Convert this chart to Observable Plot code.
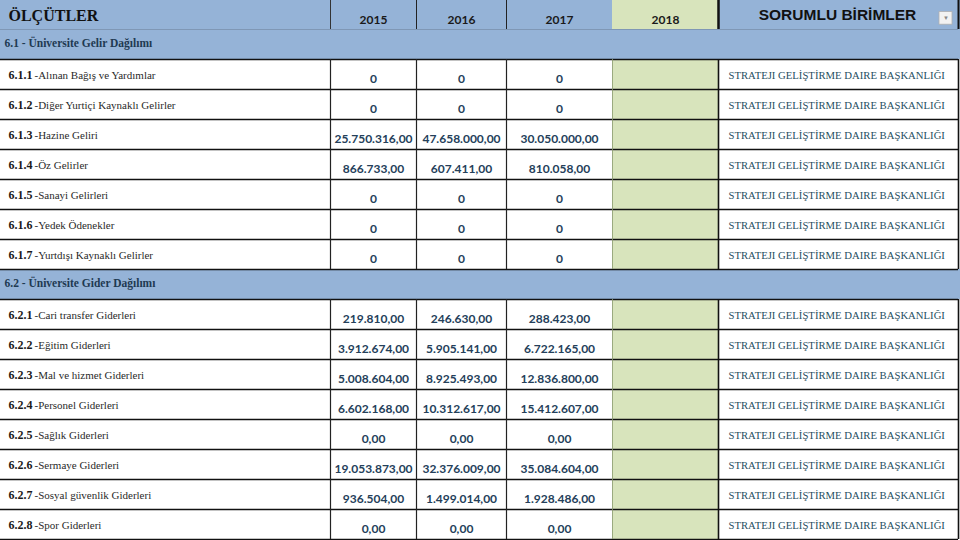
<!DOCTYPE html>
<html>
<head>
<meta charset="utf-8">
<script src="https://cdn.jsdelivr.net/npm/d3@7"></script>
<script src="https://cdn.jsdelivr.net/npm/@observablehq/plot@0.6"></script>
<style>
  html, body { margin: 0; padding: 0; background: #ffffff; }
  #chart svg { display: block; }
</style>
</head>
<body>
<div id="chart"></div>
<script>
// ---------- DATA ----------
const headerLabel = "ÖLÇÜTLER";
const unitHeader = "SORUMLU BİRİMLER";
const years = ["2015", "2016", "2017", "2018"];
const sectionTitles = ["6.1 - Üniversite Gelir Dağılımı", "6.2 - Üniversite Gider Dağılımı"];

const gelirCodes = ["6.1.1", "6.1.2", "6.1.3", "6.1.4", "6.1.5", "6.1.6", "6.1.7"];
const gelirNames = ["Alınan Bağış ve Yardımlar", "Diğer Yurtiçi Kaynaklı Gelirler", "Hazine Geliri",
  "Öz Gelirler", "Sanayi Gelirleri", "Yedek Ödenekler", "Yurtdışı Kaynaklı Gelirler"];
const gelir2015 = [0, 0, 25750316, 866733, 0, 0, 0];
const gelir2016 = [0, 0, 47658000, 607411, 0, 0, 0];
const gelir2017 = [0, 0, 30050000, 810058, 0, 0, 0];

const giderCodes = ["6.2.1", "6.2.2", "6.2.3", "6.2.4", "6.2.5", "6.2.6", "6.2.7", "6.2.8"];
const giderNames = ["Cari transfer Giderleri", "Eğitim Giderleri", "Mal ve hizmet Giderleri",
  "Personel Giderleri", "Sağlık Giderleri", "Sermaye Giderleri", "Sosyal güvenlik Giderleri", "Spor Giderleri"];
const gider2015 = [219810, 3912674, 5008604, 6602168, 0, 19053873, 936504, 0];
const gider2016 = [246630, 5905141, 8925493, 10312617, 0, 32376009, 1499014, 0];
const gider2017 = [288423, 6722165, 12836800, 15412607, 0, 35084604, 1928486, 0];

const responsibleUnit = "STRATEJI GELİŞTİRME DAIRE BAŞKANLIĞI";

// ---------- LAYOUT ----------
const W = 960, H = 540;
const colEdges = {
  label: [0, 330], "2015": [330, 416], "2016": [416, 506], "2017": [506, 612],
  "2018": [612, 718], unit: [718, 958]
};
const nRows = 18;
const mid = k => (colEdges[k][0] + colEdges[k][1]) / 2;

const trLocale = d3.formatLocale({decimal: ",", thousands: ".", grouping: [3], currency: ["", ""]});
const fmt2 = trLocale.format(",.2f");

// Build rows
const rows = [];
const cells = [];
let r = 1;
function addSection(title, codes, names, series, zeroPlain) {
  rows.push({row: r, type: "section", text: title});
  r++;
  codes.forEach((c, i) => {
    rows.push({row: r, type: "item", code: c, name: "-" + names[i]});
    series.forEach((s, j) => {
      const v = s[i];
      cells.push({row: r, col: years[j], value: v, label: (v === 0 && zeroPlain) ? "0" : fmt2(v)});
    });
    r++;
  });
}
addSection(sectionTitles[0], gelirCodes, gelirNames, [gelir2015, gelir2016, gelir2017], true);
addSection(sectionTitles[1], giderCodes, giderNames, [gider2015, gider2016, gider2017], false);

const items = rows.filter(d => d.type === "item");
const sections = rows.filter(d => d.type === "section");

const bgRects = [
  {x1: 0, x2: W, row: 0, fill: "#95b3d7"},
  {x1: colEdges["2018"][0], x2: colEdges["2018"][1], row: 0, fill: "#d8e4bc"},
  ...sections.map(s => ({x1: 0, x2: W, row: s.row, fill: "#95b3d7"})),
  ...items.map(s => ({x1: colEdges["2018"][0], x2: colEdges["2018"][1], row: s.row, fill: "#d8e4bc"}))
];

const hRules = [];
for (let k = 1; k <= nRows; k++) {
  hRules.push({y: k, color: k === 1 ? "#7f97b5" : "#111", w: k === 1 ? 1 : 1.6});
}

const vSegs = [];
const vHeader = [
  {x: colEdges["2015"][0], c: "#333", w: 1},
  {x: colEdges["2016"][0], c: "#222", w: 1},
  {x: colEdges["2017"][0], c: "#222", w: 1},
  {x: colEdges.unit[0], c: "#111", w: 2.5},
  {x: colEdges.unit[1], c: "#111", w: 2}
];
vHeader.forEach(v => vSegs.push({x: v.x, y1: 0, y2: 1, c: v.c, w: v.w}));
items.forEach(it => {
  [
    {x: colEdges["2015"][0], c: "#222", w: 1.2},
    {x: colEdges["2016"][0], c: "#222", w: 1.2},
    {x: colEdges["2017"][0], c: "#222", w: 1.2},
    {x: colEdges["2018"][0], c: "#8a9a70", w: 0.8},
    {x: colEdges.unit[0], c: "#111", w: 1.6},
    {x: colEdges.unit[1], c: "#111", w: 1.6}
  ].forEach(v => vSegs.push({x: v.x, y1: it.row, y2: it.row + 1, c: v.c, w: v.w}));
});

const headerTexts = years.map(y => ({x: mid(y), text: y}));
const dropdown = [{x1: 939, x2: 952, y1: 0.42, y2: 0.84}];

const serif = "'Liberation Serif', 'Times New Roman', serif";
const sans = "'Lato', 'Open Sans', sans-serif";

const chart = Plot.plot({
  width: W, height: H,
  margin: 0,
  style: {background: "#ffffff"},
  x: {domain: [0, W], range: [0, W], axis: null},
  y: {domain: [0, nRows], range: [-1, H - 1], axis: null},
  marks: [
    Plot.rect(bgRects, {x1: "x1", x2: "x2", y1: "row", y2: d => d.row + 1, fill: "fill"}),
    Plot.ruleY(hRules, {y: "y", x1: 0, x2: colEdges.unit[1], stroke: "color", strokeWidth: "w"}),
    Plot.ruleX(vSegs, {x: "x", y1: "y1", y2: "y2", stroke: "c", strokeWidth: "w"}),
    Plot.text([headerLabel], {x: 8, y: 0.5, text: d => d, textAnchor: "start", fontFamily: serif,
      fontWeight: "bold", fontSize: 16, fill: "#111", dy: 1}),
    Plot.text(headerTexts, {x: "x", y: 0.5, text: "text", fontFamily: sans, fontWeight: "bold",
      fontSize: 12, fill: "#1a1a1a", dy: 6}),
    Plot.text([unitHeader], {x: mid("unit") - 1, y: 0.5, text: d => d, fontFamily: "'Liberation Sans', Arial, sans-serif",
      fontWeight: "bold", fontSize: 15.5, fill: "#111", dy: 1}),
    Plot.rect(dropdown, {x1: "x1", x2: "x2", y1: "y1", y2: "y2", fill: "#f2f2f2", stroke: "#b0b0b0", strokeWidth: 0.8}),
    Plot.text(dropdown, {x: d => (d.x1 + d.x2) / 2, y: d => (d.y1 + d.y2) / 2, text: () => "▼",
      fontSize: 6, fill: "#888"}),
    Plot.text(sections, {x: 4, y: d => d.row + 0.5, text: "text", textAnchor: "start", fontFamily: serif,
      fontWeight: "bold", fontSize: 11.5, fill: "#1f3a52", dy: -1}),
    Plot.text(items, {x: 8, y: d => d.row + 0.5, text: "code", textAnchor: "start", fontFamily: serif,
      fontWeight: "bold", fontSize: 12, fill: "#1a1a1a", dy: 1}),
    Plot.text(items, {x: 8, y: d => d.row + 0.5, text: "name", textAnchor: "start", fontFamily: serif,
      fontSize: 11, fill: "#2a2a2a", dx: 26, dy: 1}),
    Plot.text(cells, {x: d => mid(d.col), y: d => d.row + 0.5, text: "label", fontFamily: sans,
      fontWeight: "bold", fontSize: 12, fill: "#24405a", dy: 5}),
    Plot.text(items, {x: colEdges.unit[0] + 10, y: d => d.row + 0.5, text: () => responsibleUnit,
      textAnchor: "start", fontFamily: serif, fontSize: 10.7, fill: "#1f4f5f", dy: 1})
  ]
});
document.getElementById("chart").appendChild(chart);
</script>
</body>
</html>
